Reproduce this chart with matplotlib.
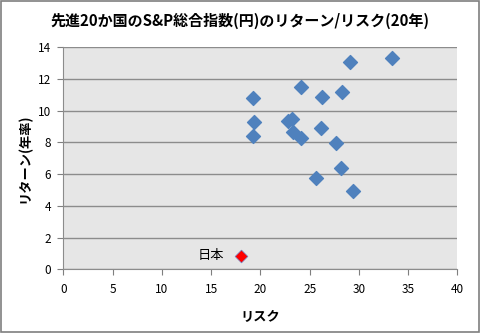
#!/usr/bin/env python3
import matplotlib
matplotlib.use("Agg")
import matplotlib.pyplot as plt
from matplotlib.patches import Rectangle

plt.rcParams['font.family'] = ['Noto Sans CJK JP', 'DejaVu Sans']

# リスク (x) と リターン (y) -- 先進国
risk = [19.2, 19.4, 19.2, 24.1, 26.3, 28.3, 29.1, 33.4, 22.8, 23.2,
        23.3, 24.1, 26.2, 27.7, 28.2, 25.6, 29.4]
ret = [10.8, 9.3, 8.4, 11.5, 10.85, 11.2, 13.1, 13.3, 9.35, 9.45,
       8.65, 8.3, 8.9, 7.95, 6.4, 5.75, 4.95]

# 日本
japan_risk = [18.0]
japan_ret = [0.85]
japan_label = "日本"

x_ticks = [0, 5, 10, 15, 20, 25, 30, 35, 40]
y_ticks = [0, 2, 4, 6, 8, 10, 12, 14]


def main():
	fig = plt.figure(figsize=(4.8, 3.33), dpi=100)
	ax = fig.add_axes([0.132, 0.191, 0.821, 0.667])
	ax.set_facecolor('#E6E6E6')

	ax.scatter(risk, ret, marker='D', s=50, color='#4F81BD', zorder=3)
	ax.scatter(japan_risk, japan_ret, marker='D', s=42, color='#FF0000',
	           edgecolors='#6F7FBF', linewidths=0.5, zorder=3)
	ax.annotate(japan_label, (japan_risk[0], japan_ret[0]), xytext=(-12, 0),
	            textcoords='offset points', ha='right', va='center',
	            fontsize=9.5, color='black')

	ax.set_xlim(0, 40)
	ax.set_ylim(0, 14)
	ax.set_xticks(x_ticks)
	ax.set_yticks(y_ticks)
	ax.tick_params(axis='both', labelsize=8.5, colors='#7F7F7F', labelcolor='black',
	               direction='out', length=4, width=0.8)
	ax.tick_params(axis='x', pad=6)
	ax.tick_params(axis='y', pad=5)
	ax.grid(axis='y', color='#8C8C8C', linewidth=1.0)
	ax.set_axisbelow(True)

	for s in ['top', 'right']:
		ax.spines[s].set_visible(False)
	for s in ['left', 'bottom']:
		ax.spines[s].set_color('#8C8C8C')
		ax.spines[s].set_linewidth(0.8)

	ax.set_xlabel("リスク", fontsize=9.5, fontweight='bold', labelpad=10)
	ax.set_ylabel("リターン(年率)", fontsize=9.5, fontweight='bold', labelpad=4)
	fig.text(0.5, 0.938, "先進20か国のS&P総合指数(円)のリターン/リスク(20年)",
	         ha='center', va='center', fontsize=10.8, fontweight='bold')

	# 外枠
	fig.patches.append(Rectangle((0.002, 0.003), 0.996, 0.994, transform=fig.transFigure,
	                             fill=False, edgecolor='#7F7F7F', linewidth=1.2))

	fig.savefig("out.png", dpi=100)


if __name__ == "__main__":
	main()
